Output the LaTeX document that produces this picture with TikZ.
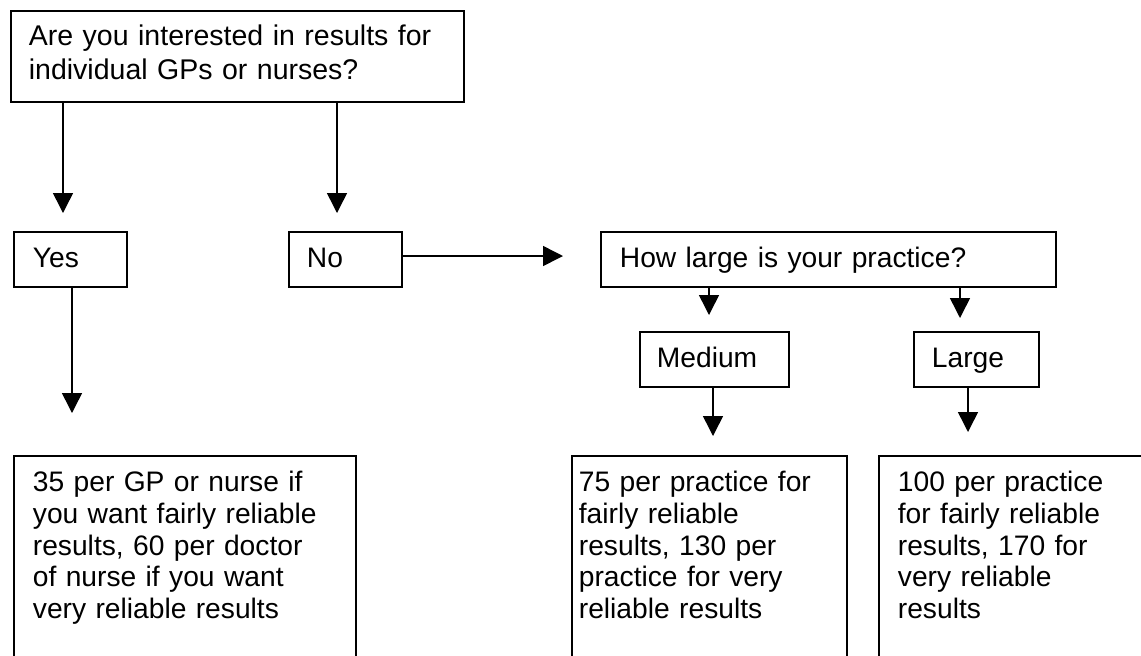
\documentclass[tikz,border=0pt]{standalone}
\usepackage{fontspec}
\setmainfont{Liberation Sans}
\usetikzlibrary{arrows.meta}

\begin{document}
\begin{tikzpicture}[x=0.5pt, y=-0.5pt,
    font=\fontsize{14.1}{15.8}\selectfont,
    caja/.style={draw, line width=0.9pt, anchor=north west, align=left, inner ysep=0pt, text height=18pt},
    flecha/.style={line width=0.75pt, -{Triangle[length=10pt, width=10pt]}}]
    \useasboundingbox (0,0) rectangle (1141,655);
    \clip (0,0) rectangle (1141,655);

    % Question boxes
    \node[caja, inner xsep=9pt, text width=208.5pt, text height=17.5pt, text depth=28pt, font=\fontsize{14.25}{17}\selectfont] (quest) at (10,10) {Are you interested in results for\\individual GPs or nurses?};
    \node[caja, inner xsep=9.5pt, text width=37.5pt, text depth=9.5pt] (yes) at (13,231) {Yes};
    \node[caja, inner xsep=9pt, text width=38.5pt, text depth=9.5pt] (no) at (288,231) {No};
    \node[caja, inner xsep=9.5pt, text width=208.5pt, text depth=9.5pt] (size) at (600,231) {How large is your practice?};
    \node[caja, inner xsep=8.5pt, text width=57.5pt, text depth=9.5pt] (medium) at (639,331) {Medium};
    \node[caja, inner xsep=9pt, text width=44.5pt, text depth=9.5pt] (large) at (913,331) {Large};

    % Result boxes
    \node[caja, inner xsep=9.5pt, text width=152pt, text depth=107pt] (gpres) at (13,455) {35 per GP or nurse if\\you want fairly reliable\\results, 60 per doctor\\of nurse if you want\\very reliable results};
    \node[caja, inner xsep=3.5pt, text width=130.5pt, text depth=107pt] (medres) at (571,455) {75 per practice for\\fairly reliable\\results, 130 per\\practice for very\\reliable results};
    \node[caja, inner xsep=9.5pt, text width=131pt, text depth=107pt] (largeres) at (878,455) {100 per practice\\for fairly reliable\\results, 170 for\\very reliable\\results};

    % Arrow ends
    \coordinate (toyes) at (63,213);
    \coordinate (tono) at (337,213);
    \coordinate (togpres) at (72,413);
    \coordinate (tosize) at (563,256);
    \coordinate (tomedium) at (709,315);
    \coordinate (tolarge) at (960,318);
    \coordinate (tomedres) at (713,436);
    \coordinate (tolargeres) at (968,432);

    % Arrows
    \draw[flecha] (quest.south -| toyes) -- (toyes);
    \draw[flecha] (quest.south -| tono) -- (tono);
    \draw[flecha] (yes.south -| togpres) -- (togpres);
    \draw[flecha] (no.east |- tosize) -- (tosize);
    \draw[flecha] (size.south -| tomedium) -- (tomedium);
    \draw[flecha] (size.south -| tolarge) -- (tolarge);
    \draw[flecha] (medium.south -| tomedres) -- (tomedres);
    \draw[flecha] (large.south -| tolargeres) -- (tolargeres);
\end{tikzpicture}
\end{document}
